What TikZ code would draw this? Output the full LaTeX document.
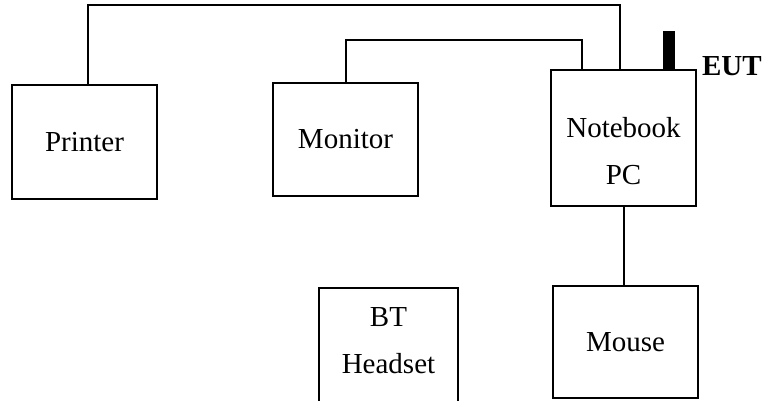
\documentclass[tikz,border=0pt]{standalone}
\usepackage{fontspec}
\setmainfont{Liberation Serif}
\begin{document}
\begin{tikzpicture}[x=1pt,y=-1pt,line width=2pt,
        box/.style={draw,rectangle,inner sep=0pt,align=center,minimum width=145pt,font=\fontsize{29}{47}\selectfont},
    ]
        \useasboundingbox(0,0)rectangle(766,400);
        \node[box,minimum height=114pt](printer)at(84.5,142){Printer};
        \node[box,minimum height=113pt](monitor)at(345.5,139.5){Monitor};
        \node[box,minimum height=136pt](notebook)at(623.5,138){\\[0pt]Notebook\\PC};
        \node[box,minimum width=139pt,minimum height=124pt](headset)at(388.5,350){BT\\Headset\\[-28pt]};
        \node[box,minimum height=112pt](mouse)at(625.5,342){Mouse};
        \coordinate(top)at(0,5);
        \coordinate(mid)at(0,40);
        \coordinate(p1)at([xshift=3.5pt]printer.north);
        \coordinate(n1)at([xshift=-3.5pt]notebook.north);
        \coordinate(n2)at([xshift=-41.5pt]notebook.north);
        \draw(p1)--(p1|-top)-|(n1);
        \draw(monitor.north)--(monitor.north|-mid)-|(n2);
        \draw(notebook.south)--(notebook.south|-mouse.north);
        \fill(notebook.north east)++(-34,1)rectangle++(12,-39);
        \node[anchor=base west,inner sep=0pt,font=\fontsize{29}{34}\selectfont\bfseries](eut)at(701,75){EUT};
    \end{tikzpicture}
\end{document}
